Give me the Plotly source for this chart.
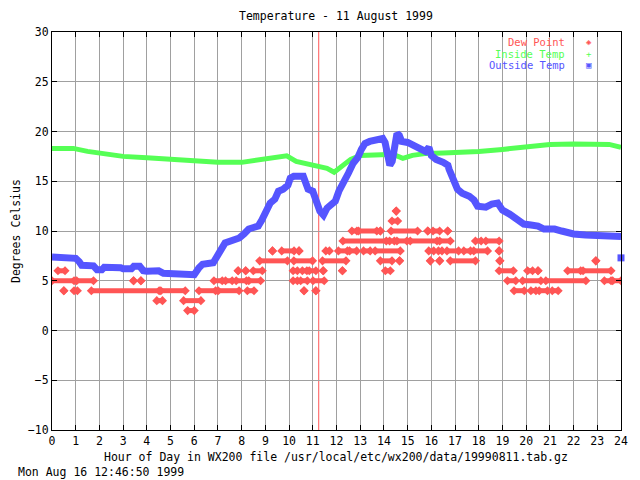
import plotly.graph_objects as go

# ---------------- data ----------------
title_text = "Temperature - 11 August 1999"
x_title = "Hour of Day in WX200 file /usr/local/etc/wx200/data/19990811.tab.gz"
y_title = "Degrees Celsius"
stamp_text = "Mon Aug 16 12:46:50 1999"
series_names = ["Dew Point", "Inside Temp", "Outside Temp"]
now_hour = 11.25

outside_hour = [0.0, 0.9, 1.0, 1.15, 1.25, 1.75, 1.9, 2.1, 2.2, 2.9, 3.0, 3.35, 3.45, 3.7, 3.85,
                4.0, 4.5, 4.7, 5.7, 5.9, 6.0, 6.2, 6.35, 6.8, 6.95, 7.1, 7.3, 7.6, 7.9, 8.1,
                8.3, 8.5, 8.7, 8.85, 9.0, 9.2, 9.4, 9.55, 9.75, 9.95, 10.05, 10.2, 10.6, 10.7,
                10.8, 11.0, 11.15, 11.3, 11.45, 11.6, 11.8, 11.95, 12.1, 12.3, 12.5, 12.7,
                12.9, 13.05, 13.2, 13.4, 13.7, 13.95, 14.05, 14.15, 14.25, 14.35, 14.45,
                14.55, 14.65, 14.75, 15.0, 15.2, 15.5, 15.75, 15.9, 16.0, 16.2, 16.5, 16.7,
                16.75, 16.95, 17.1, 17.3, 17.6, 17.8, 17.95, 18.3, 18.55, 18.8, 19.0, 19.3,
                19.6, 19.9, 20.2, 20.5, 20.75, 21.2, 21.5, 21.75, 22.0, 22.5, 23.0, 23.4, 24.0]
outside_temp = [7.4, 7.4, 7.25, 6.9, 6.55, 6.5, 6.1, 6.1, 6.35, 6.3, 6.2, 6.2, 6.45, 6.45, 6.0,
                5.95, 6.0, 5.75, 5.65, 5.55, 5.6, 6.3, 6.65, 6.8, 7.3, 8.0, 8.8, 9.0, 9.3, 9.7,
                10.2, 10.35, 10.5, 11.1, 11.9, 12.8, 13.2, 14.0, 14.2, 14.6, 15.3, 15.5, 15.5, 14.7,
                14.2, 14.0, 13.0, 12.0, 11.6, 12.3, 12.7, 13.0, 14.0, 14.8, 15.8, 16.8,
                17.4, 18.2, 18.8, 19.0, 19.1, 19.3, 18.9, 17.5, 16.6, 17.0, 18.8,
                19.8, 19.6, 19.0, 18.9, 18.6, 18.3, 18.0, 18.4, 17.6, 17.2, 16.9, 16.6,
                16.2, 15.2, 14.2, 13.8, 13.5, 13.1, 12.5, 12.4, 12.7, 12.8, 12.1, 11.7,
                11.2, 10.7, 10.6, 10.5, 10.2, 10.2, 10.0, 9.8, 9.7, 9.6, 9.5, 9.45, 9.45]
outside_extra_hour = [24.0]
outside_extra_temp = [7.3]

inside_hour = [0.0, 0.9, 1.5, 2.1, 3.0, 4.0, 5.0, 6.0, 7.0, 8.0, 8.5, 9.2, 9.9, 10.3, 10.8,
               11.3, 11.6, 11.9, 12.2, 12.6, 13.0, 13.6, 14.2, 14.5, 14.8, 15.2, 15.8, 16.5,
               17.5, 18.0, 19.0, 20.0, 21.0, 22.0, 23.0, 23.5, 24.0]
inside_temp = [18.3, 18.3, 18.0, 17.8, 17.5, 17.35, 17.2, 17.0, 16.9, 16.9, 17.1, 17.3, 17.55,
               17.0, 16.7, 16.5, 16.3, 15.9, 16.5, 17.2, 17.6, 17.7, 17.7, 17.6, 17.3, 17.6,
               17.8, 17.85, 17.9, 18.0, 18.2, 18.5, 18.7, 18.75, 18.75, 18.7, 18.4]

# dew point readings as runs of equal value: start hour, end hour, value
dew_start = [5.72, 4.42, 5.55,
             0.5, 0.93, 1.66, 4.59, 6.2, 7.01, 8.24, 10.63, 11.13, 19.49, 20.2, 20.55, 21.1,
             0.0, 1.04, 3.44, 3.75, 6.83, 7.32, 7.77, 8.3, 10.17, 10.49, 11.01, 19.21, 19.85,
             20.83, 23.3, 23.65,
             0.25, 7.85, 8.17, 8.49, 10.17, 10.56, 10.85, 11.44, 12.25, 14.06, 18.86, 20.06,
             20.5, 21.75, 22.4,
             8.76, 10.2, 11.41, 13.85, 14.66, 15.96, 16.35, 16.8, 18.89, 22.94,
             9.3, 9.69, 10.42, 11.55, 12.08, 12.55, 13.14, 13.63, 15.89, 16.3, 16.66, 17.37,
             17.79, 18.86,
             12.27, 14.24, 14.55, 15.11, 16.35, 17.86, 18.3,
             12.65, 12.93, 13.85, 14.3, 15.85, 16.07, 16.69,
             14.34, 14.52]
dew_end = [6.0, 4.66, 6.28,
           0.5, 1.07, 4.52, 5.62, 6.9, 7.89, 8.52, 10.63, 11.13, 19.92, 20.41, 20.9, 21.35,
           0.93, 1.75, 3.44, 3.75, 7.18, 7.6, 8.2, 8.8, 10.35, 10.77, 11.48, 19.56, 20.62,
           22.52, 23.58, 24.0,
           0.55, 7.85, 8.17, 8.87, 10.35, 10.75, 11.13, 11.44, 12.25, 14.27, 19.46, 20.27,
           20.5, 22.3, 23.58,
           9.93, 10.99, 12.4, 14.34, 14.66, 15.96, 16.35, 17.86, 18.89, 22.94,
           9.3, 10.21, 10.42, 11.7, 12.46, 12.85, 13.42, 14.69, 16.1, 16.45, 17.15, 17.65,
           18.37, 18.86,
           14.1, 14.44, 14.97, 16.24, 16.8, 18.1, 18.86,
           12.86, 13.7, 13.85, 15.42, 15.85, 16.35, 16.69,
           14.58, 14.52]
dew_value = [2, 3, 3,
             4, 4, 4, 4, 4, 4, 4, 4, 4, 4, 4, 4, 4,
             5, 5, 5, 5, 5, 5, 5, 5, 5, 5, 5, 5, 5, 5, 5, 5,
             6, 6, 6, 6, 6, 6, 6, 6, 6, 6, 6, 6, 6, 6, 6,
             7, 7, 7, 7, 7, 7, 7, 7, 7, 7,
             8, 8, 8, 8, 8, 8, 8, 8, 8, 8, 8, 8, 8, 8,
             9, 9, 9, 9, 9, 9, 9,
             10, 10, 10, 10, 10, 10, 10,
             11, 12]

x_ticks = list(range(0, 25))
y_ticks = [-10, -5, 0, 5, 10, 15, 20, 25, 30]

# ---------------- styles ----------------
RED = "#ff5555"
GREEN = "#55ff55"
BLUE = "#5555ff"
GRID = "#a0a0a0"
FONT = "DejaVu Sans Mono"
FS = 11.5

dx, dy = [], []
for s, e, v in zip(dew_start, dew_end, dew_value):
    dx += [s, e, None]
    dy += [v, v, None]

fig = go.Figure()
fig.add_trace(go.Scatter(x=dx, y=dy, mode="lines+markers", name=series_names[0],
                         line=dict(color=RED, width=5),
                         marker=dict(symbol="diamond", size=7, color=RED),
                         connectgaps=False, showlegend=False))
fig.add_trace(go.Scatter(x=inside_hour, y=inside_temp, mode="lines", name=series_names[1],
                         line=dict(color=GREEN, width=5), showlegend=False))
fig.add_trace(go.Scatter(x=outside_hour, y=outside_temp, mode="lines", name=series_names[2],
                         line=dict(color=BLUE, width=7), showlegend=False))
fig.add_trace(go.Scatter(x=outside_extra_hour, y=outside_extra_temp, mode="markers",
                         marker=dict(symbol="square", size=7, color=BLUE),
                         showlegend=False, cliponaxis=False))

fig.add_shape(type="line", xref="x", yref="paper", x0=now_hour, x1=now_hour, y0=0, y1=1,
              line=dict(color=RED, width=1), layer="below")

# page body has an 8px margin; target frame on screen: x 52..621, y 32..430
OFF = 8
SL, ST, SR, SB = 52, 32, 621, 430
FW, FH = 640 - OFF, 480 - OFF
L, T = SL - OFF, ST - OFF
R = FW - (SR - OFF)
B = FH - (SB - OFF)
PW, PH = SR - SL, SB - ST


def px(x):
    return (x - SL) / PW


def py(y):
    return (SB - y) / PH


ann = [
    dict(text=title_text, x=px(336), y=py(16), xref="paper", yref="paper", showarrow=False,
         xanchor="center", yanchor="middle", font=dict(family=FONT, size=FS, color="black")),
    dict(text=x_title, x=px(336), y=py(457), xref="paper", yref="paper", showarrow=False,
         xanchor="center", yanchor="middle", font=dict(family=FONT, size=FS, color="black")),
    dict(text=y_title, x=px(16), y=py(231), xref="paper", yref="paper", showarrow=False,
         textangle=-90, xanchor="center", yanchor="middle", borderpad=0,
         font=dict(family=FONT, size=FS, color="black")),
    dict(text=stamp_text, x=px(16), y=py(472), xref="paper", yref="paper", showarrow=False,
         xanchor="left", yanchor="middle", font=dict(family=FONT, size=FS, color="black")),
]
leg_cols = [RED, GREEN, BLUE]
leg_syms = ["◈", "+", "▣"]
for i, (nm, c, sym) in enumerate(zip(series_names, leg_cols, leg_syms)):
    yy = 42 + i * 11.5
    ann.append(dict(text=nm, x=px(566), y=py(yy), xref="paper", yref="paper", showarrow=False,
                    xanchor="right", yanchor="middle", borderpad=0,
                    font=dict(family=FONT, size=10.5, color=c)))
    ann.append(dict(text=sym, x=px(589), y=py(yy), xref="paper", yref="paper", showarrow=False,
                    xanchor="center", yanchor="middle", borderpad=0,
                    font=dict(family=FONT, size=9, color=c)))

axis_common = dict(showgrid=True, gridcolor=GRID, gridwidth=1, zeroline=False,
                   showline=True, linecolor="black", linewidth=1, mirror="ticks",
                   ticks="inside", ticklen=5, tickcolor="black",
                   tickfont=dict(family=FONT, size=FS, color="black"))

fig.update_layout(
    width=FW, height=FH,
    margin=dict(l=L, r=R, t=T, b=B),
    paper_bgcolor="white", plot_bgcolor="white",
    xaxis=dict(range=[0, 24], tickvals=x_ticks, **axis_common),
    yaxis=dict(range=[-10, 30], tickvals=y_ticks, **axis_common),
    annotations=ann,
    showlegend=False,
)

fig.write_html("out.html")
